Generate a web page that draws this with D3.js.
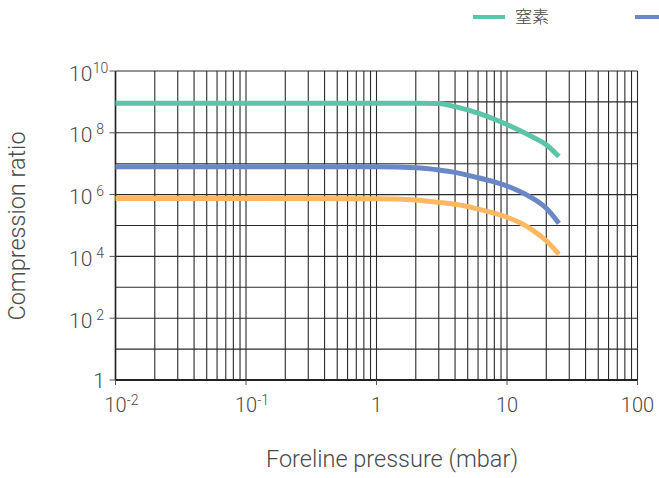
<!DOCTYPE html>
<html>
<head>
<meta charset="utf-8">
<script src="https://cdn.jsdelivr.net/npm/d3@7"></script>
<style>
  html, body { margin: 0; padding: 0; background: #fff; overflow: hidden; }
  svg { display: block; font-family: Roboto, "Noto Sans", sans-serif; }
</style>
</head>
<body>
<svg id="chart" width="659" height="478"></svg>
<script>
// ---- data ----
const pressure = [0.01, 0.1, 1, 2, 3, 4, 5, 6, 8, 10, 15, 20, 25];
const nitrogen = [9e8, 9e8, 9e8, 9e8, 8.9e8, 7e8, 5.5e8, 4.3e8, 2.75e8, 1.86e8, 8.1e7, 4.1e7, 1.7e7];
const seriesB  = [8e6, 8e6, 7.9e6, 7.4e6, 6.3e6, 5.25e6, 4.27e6, 3.5e6, 2.6e6, 1.9e6, 8.5e5, 3.6e5, 1.17e5];
const seriesC  = [7.5e5, 7.5e5, 7.4e5, 6.7e5, 5.6e5, 4.85e5, 4.1e5, 3.4e5, 2.5e5, 1.85e5, 8.1e4, 3.2e4, 1.17e4];
const seriesNames = ["窒素", "", ""];
const seriesColors = ["#5cc4a8", "#6a87c8", "#ffb862"];
const xTickValues = [0.01, 0.1, 1, 10, 100];
const xTickBase = ["10", "10", "1", "10", "100"];
const xTickSup  = ["-2", "-1", "", "", ""];
const yTickValues = [1, 1e2, 1e4, 1e6, 1e8, 1e10];
const yTickBase = ["1", "10", "10", "10", "10", "10"];
const yTickSup  = ["", " 2", " 4", " 6", " 8", "10"];
const xTitle = "Foreline pressure (mbar)";
const yTitle = "Compression ratio";

const svg = d3.select("#chart");
const x = d3.scaleLog().domain([0.01, 100]).range([115.5, 637.5]);
const y = d3.scaleLog().domain([1, 1e10]).range([380, 71]);
const textColor = "#4a4a4a";

// ---- grid ----
const grid = svg.append("g");
const vLines = [];
[0.01, 0.1, 1, 10].forEach(d => { for (let k = 1; k <= 9; k++) vLines.push(d * k); });
vLines.push(100);
grid.selectAll("line.v").data(vLines).join("line")
  .attr("x1", d => x(d)).attr("x2", d => x(d))
  .attr("y1", y(1e10)).attr("y2", y(1))
  .attr("stroke", "#2a2a2a").attr("stroke-width", 1.1);
const hLines = d3.range(0, 11).map(e => Math.pow(10, e));
grid.selectAll("line.h").data(hLines).join("line")
  .attr("x1", x(0.01)).attr("x2", x(100))
  .attr("y1", d => y(d)).attr("y2", d => y(d))
  .attr("stroke", "#2a2a2a").attr("stroke-width", 1.1);

// axes lines
svg.append("line").attr("x1", x(0.01)).attr("x2", x(100)).attr("y1", y(1)).attr("y2", y(1))
  .attr("stroke", "#222").attr("stroke-width", 2);
svg.append("line").attr("x1", x(0.01)).attr("x2", x(0.01)).attr("y1", y(1e10)).attr("y2", y(1))
  .attr("stroke", "#222").attr("stroke-width", 1.6);

// ticks
svg.selectAll("line.yt").data(yTickValues).join("line")
  .attr("x1", x(0.01) - 6).attr("x2", x(0.01))
  .attr("y1", d => y(d)).attr("y2", d => y(d))
  .attr("stroke", "#555").attr("stroke-width", 1);
svg.selectAll("line.xt").data(xTickValues).join("line")
  .attr("x1", d => x(d)).attr("x2", d => x(d))
  .attr("y1", y(1)).attr("y2", y(1) + 5)
  .attr("stroke", "#555").attr("stroke-width", 1);

// y tick labels
const yLab = svg.append("g").attr("font-weight", 300).attr("fill", textColor);
yTickValues.forEach((v, i) => {
  if (yTickSup[i] === "") {
    yLab.append("text").attr("x", 105).attr("y", y(v) + 7.5)
      .attr("text-anchor", "end").attr("font-size", 21).text(yTickBase[i]);
  } else {
    const t = yLab.append("text").attr("x", 69).attr("y", y(v) + 9.5)
      .attr("font-size", 21).attr("xml:space", "preserve");
    t.append("tspan").text(yTickBase[i]);
    t.append("tspan").attr("font-size", 14).attr("dy", -8).attr("dx", 0.5).text(yTickSup[i]);
  }
});

// x tick labels
const xLab = svg.append("g").attr("font-weight", 300).attr("fill", textColor);
xTickValues.forEach((v, i) => {
  const t = xLab.append("text").attr("y", 412).attr("font-size", 20);
  if (xTickSup[i] === "") {
    t.attr("x", x(v)).attr("text-anchor", "middle").text(xTickBase[i]);
  } else {
    t.attr("x", x(v) - 11);
    t.append("tspan").text(xTickBase[i]);
    t.append("tspan").attr("font-size", 14).attr("dy", -7).text(xTickSup[i]);
  }
});

// titles
svg.append("text").attr("x", 392).attr("y", 467).attr("text-anchor", "middle")
  .attr("font-size", 23.5).attr("font-weight", 300).attr("fill", textColor).text(xTitle);
svg.append("text").attr("transform", "translate(25,226) rotate(-90)").attr("text-anchor", "middle")
  .attr("font-size", 23.5).attr("font-weight", 300).attr("fill", textColor).text(yTitle);

// ---- series ----
const allSeries = [nitrogen, seriesB, seriesC];
const line = d3.line().x(d => x(d[0])).y(d => y(d[1])).curve(d3.curveMonotoneX);
allSeries.forEach((vals, i) => {
  svg.append("path")
    .datum(pressure.map((p, j) => [p, vals[j]]))
    .attr("d", line)
    .attr("fill", "none")
    .attr("stroke", seriesColors[i])
    .attr("stroke-width", 5);
});

// ---- legend ----
const legend = svg.append("g");
const legendX = [473, 635];
legendX.forEach((lx, i) => {
  legend.append("line").attr("x1", lx).attr("x2", lx + 32).attr("y1", 17).attr("y2", 17)
    .attr("stroke", seriesColors[i]).attr("stroke-width", 4);
  if (seriesNames[i]) {
    legend.append("text").attr("x", lx + 42).attr("y", 23)
      .attr("font-family", "'Noto Sans CJK JP', sans-serif").attr("font-size", 17)
      .attr("font-weight", 300).attr("fill", textColor).text(seriesNames[i]);
  }
});
</script>
</body>
</html>
